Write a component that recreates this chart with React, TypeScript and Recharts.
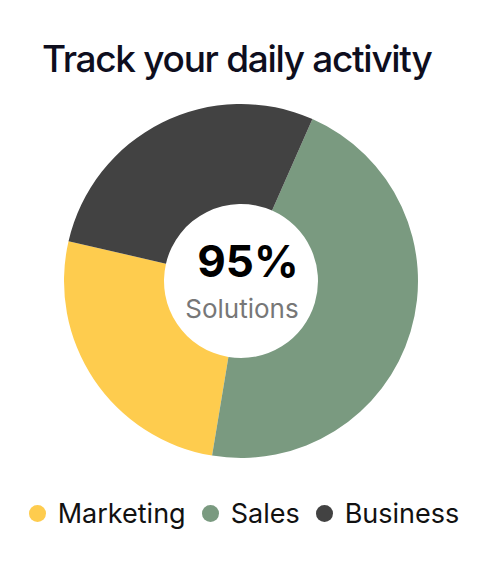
import React from "react";
import { PieChart, Pie, Cell, Legend } from "recharts";

const categories = ["Marketing", "Sales", "Business"];
const shares = [26, 46, 28];
const colors = ["#FECC4E", "#7A9A80", "#424242"];

const centerValue = "95%";
const centerCaption = "Solutions";

const data = categories.map((name, i) => ({ name, value: shares[i] }));

const FONT = "Inter, 'Noto Sans', sans-serif";

// legend built from our own arrays so the order stays as in the data
const renderLegend = () => (
  <div
    style={{
      display: "flex",
      justifyContent: "center",
      alignItems: "center",
      gap: 16,
      fontFamily: FONT,
    }}
  >
    {categories.map((name, i) => (
      <div key={name} style={{ display: "flex", alignItems: "center", gap: 12 }}>
        <span
          style={{
            width: 17,
            height: 17,
            borderRadius: "50%",
            background: colors[i],
            display: "inline-block",
          }}
        />
        <span style={{ fontSize: 27, color: "#111", lineHeight: 1 }}>{name}</span>
      </div>
    ))}
  </div>
);

export default function App() {
  return (
    <div
      style={{
        position: "absolute",
        top: 0,
        left: 0,
        width: 488,
        height: 573,
        background: "#fff",
      }}
    >
      <div
        style={{
          position: "absolute",
          left: 42,
          top: 40,
          fontFamily: FONT,
          fontSize: 37,
          fontWeight: 450,
          letterSpacing: -1.3,
          lineHeight: 1,
          color: "#0e0e1e",
          whiteSpace: "nowrap",
        }}
      >
        Track your daily activity
      </div>
      <PieChart
        width={488}
        height={573}
        margin={{ top: 0, right: 0, bottom: 0, left: 0 }}
      >
        <Pie
          data={data}
          dataKey="value"
          nameKey="name"
          cx={241}
          cy={281}
          innerRadius={77}
          outerRadius={177}
          startAngle={167}
          endAngle={527}
          stroke="none"
          isAnimationActive={false}
        >
          {data.map((d, i) => (
            <Cell key={d.name} fill={colors[i]} />
          ))}
        </Pie>
        <Legend
          content={renderLegend}
          wrapperStyle={{ top: 500, bottom: "auto", left: 0, width: 488 }}
        />
      </PieChart>
      <svg
        width={488}
        height={573}
        style={{ position: "absolute", top: 0, left: 0, pointerEvents: "none" }}
      >
        <text
          x={248}
          y={277}
          textAnchor="middle"
          fontFamily={FONT}
          fontWeight={700}
          fontSize={44}
          fill="#000"
        >
          {centerValue}
        </text>
        <text
          x={242}
          y={318}
          textAnchor="middle"
          fontFamily={FONT}
          fontSize={26}
          fill="#777"
        >
          {centerCaption}
        </text>
      </svg>
    </div>
  );
}
